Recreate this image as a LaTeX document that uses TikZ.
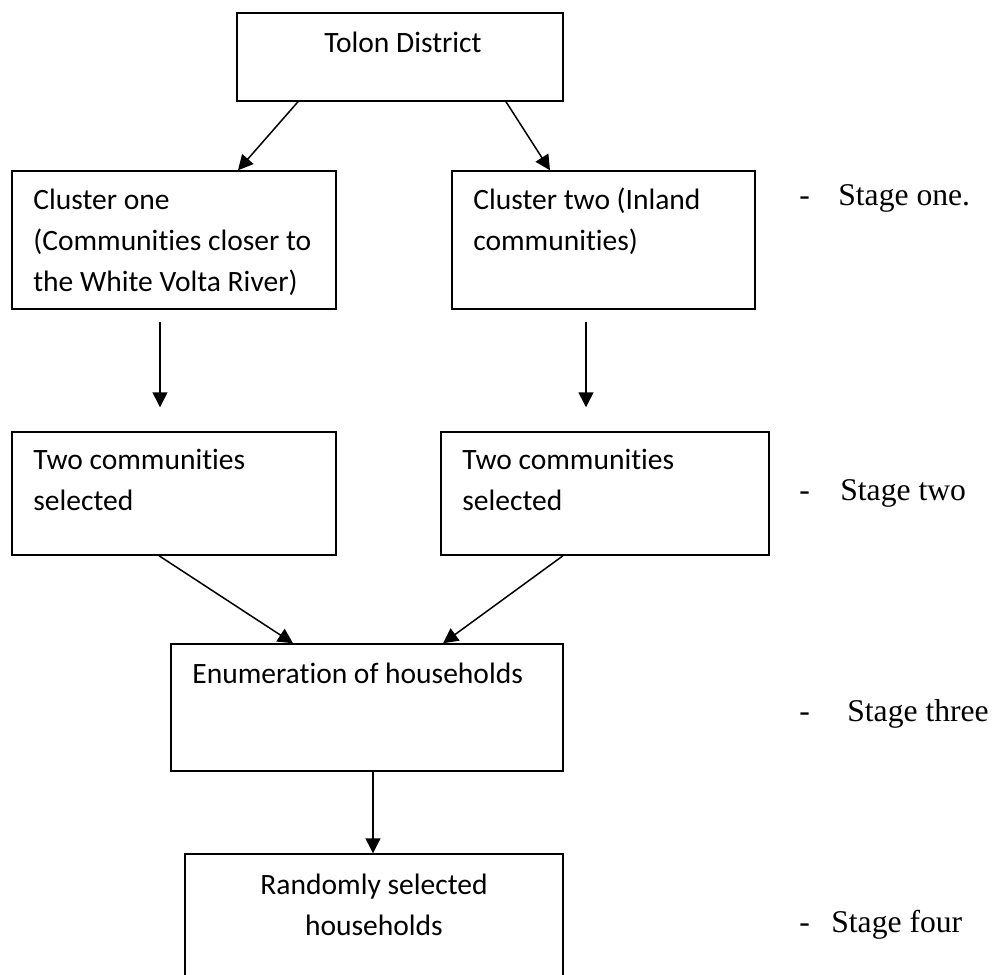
\documentclass[tikz,border=0pt]{standalone}
\usepackage{fontspec}
\setmainfont{Carlito}[Ligatures=NoCommon]
\newfontfamily\stagefont{Liberation Serif}
\usetikzlibrary{arrows.meta,calc}
\tikzset{
  boxnode/.style={draw=black, line width=0.85pt, rectangle, inner sep=0pt},
  boxtext/.style={inner sep=0pt, align=left, font=\fontsize{16.8}{23.3}\selectfont},
  stagetext/.style={inner sep=0pt, anchor=base west, font=\stagefont\fontsize{18}{21}\selectfont},
  flowarrow/.style={line width=0.85pt, -{Triangle[length=0.3cm,width=0.3cm]}},
}
\begin{document}
\begin{tikzpicture}[x=0.02cm,y=-0.02cm]
\useasboundingbox (0,0) rectangle (994,974);
\clip (0,0) rectangle (994,974);
% boxes
\node[boxnode, minimum width=6.52cm, minimum height=1.76cm] (tolon) at (400,57) {};
\node[boxnode, minimum width=6.48cm, minimum height=2.76cm] (clone) at (174,240) {};
\node[boxnode, minimum width=6.06cm, minimum height=2.76cm] (cltwo) at (603.5,240) {};
\node[boxnode, minimum width=6.48cm, minimum height=2.46cm] (twoleft) at (174,493.5) {};
\node[boxnode, minimum width=6.56cm, minimum height=2.46cm] (tworight) at (605,493.5) {};
\node[boxnode, minimum width=7.84cm, minimum height=2.54cm] (enum) at (367,707.5) {};
\node[boxnode, minimum width=7.56cm, minimum height=3.12cm] (rand) at (374,932) {};
% box texts (base = last line)
\node[boxtext, anchor=base] (tolontxt) at (403,52) {Tolon District};
\node[boxtext, anchor=base west] (clonetxt) at (33,291) {Cluster one\\(Communities closer to\\the White Volta River)};
\node[boxtext, anchor=base west] (cltwotxt) at (473,250) {Cluster two (Inland\\communities)};
\node[boxtext, anchor=base west] (twolefttxt) at (33,510) {Two communities\\selected};
\node[boxtext, anchor=base west] (tworighttxt) at (462,510) {Two communities\\selected};
\node[boxtext, anchor=base west] (enumtxt) at (192,683) {Enumeration of households};
\node[boxtext, align=center, anchor=base] (randtxt) at (374,935) {Randomly selected\\households};
% stage labels
\node[stagetext] (dashone) at (799,205) {-};
\node[stagetext] (stageone) at (838,205) {Stage one.};
\node[stagetext] (dashtwo) at (799,500) {-};
\node[stagetext] (stagetwo) at (840,500) {Stage two};
\node[stagetext] (dashthree) at (799,721) {-};
\node[stagetext] (stagethree) at (847,721) {Stage three};
\node[stagetext] (dashfour) at (799,932) {-};
\node[stagetext] (stagefour) at (831,932) {Stage four};
% arrows
\coordinate (c1out) at ($(clone.south)+(-14,12)$);
\coordinate (c1in) at ($(twoleft.north)+(-14,-24)$);
\coordinate (c2out) at ($(cltwo.south)+(-17.5,12)$);
\coordinate (c2in) at (c2out |- c1in);
\draw[flowarrow] ($(tolon.south)+(-102,0)$) -- ($(clone.north)+(64,0)$);
\draw[flowarrow] ($(tolon.south)+(106,0)$) -- ($(cltwo.north)+(-53.5,0)$);
\draw[flowarrow] (c1out) -- (c1in);
\draw[flowarrow] (c2out) -- (c2in);
\draw[flowarrow] ($(twoleft.south)+(-15,0)$) -- ($(enum.north)+(-74,0)$);
\draw[flowarrow] ($(tworight.south)+(-42,0)$) -- ($(enum.north)+(76,0)$);
\draw[flowarrow] ($(enum.south)+(6,0)$) -- ($(rand.north)+(-1,0)$);
\end{tikzpicture}
\end{document}
